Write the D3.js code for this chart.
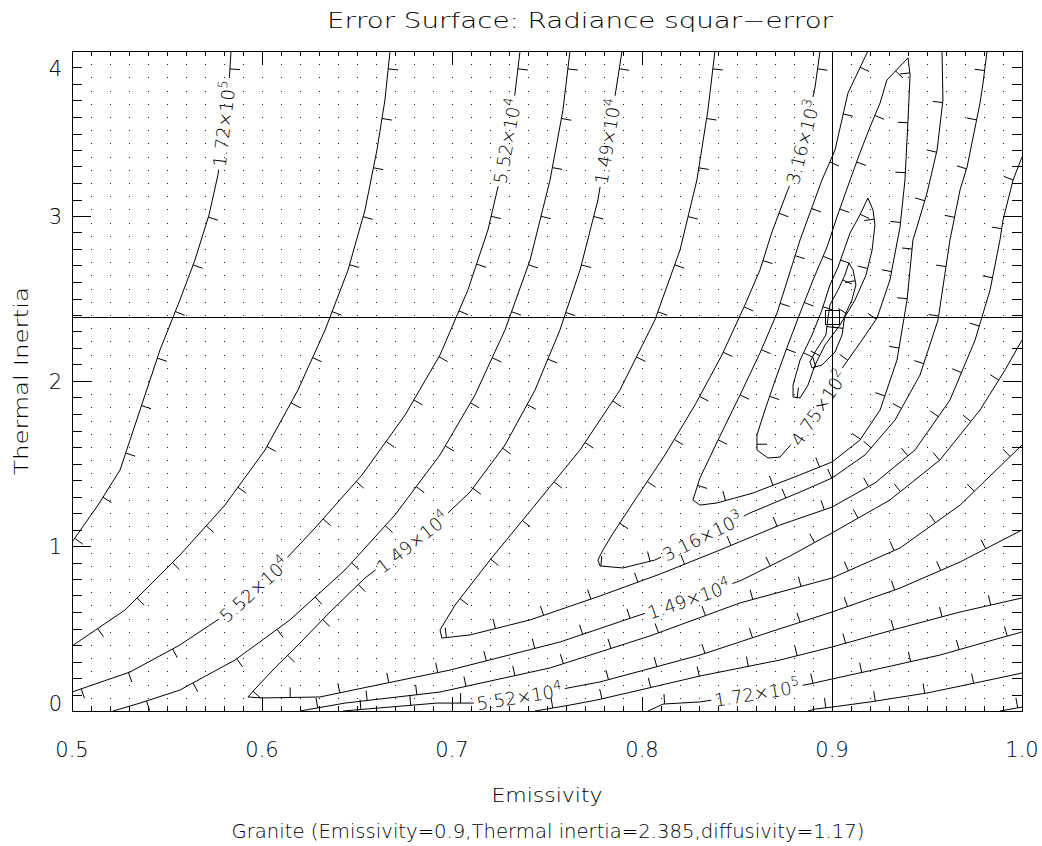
<!DOCTYPE html>
<html>
<head>
<meta charset="utf-8">
<script src="https://cdn.jsdelivr.net/npm/d3@7"></script>
<style>
  body { margin: 0; background: #fff; }
  text { font-family: "DejaVu Sans", "Liberation Sans", sans-serif; font-weight: 200; fill: #000; }
</style>
</head>
<body>
<svg id="chart" width="1042" height="846"></svg>
<script>
// ---- axis ticks ----
const xTicks = [0.5, 0.6, 0.7, 0.8, 0.9, 1.0];
const xTickLabels = ["0.5", "0.6", "0.7", "0.8", "0.9", "1.0"];
const yTicks = [0, 1, 2, 3, 4];
const yTickLabels = ["0", "1", "2", "3", "4"];

// ---- reference material (crosshair) ----
const refEmissivity = 0.9;
const refInertia = 2.385;

// ---- labelled contour levels (squared radiance error) ----
const levelValues = [1.72e5, 5.52e4, 1.49e4, 3.16e3, 4.75e2];

// ---- contour lines, [emissivity, thermal inertia], outermost first ----
const cOuter3 = [[0.9884,0],[1.0,0.024]];
const cOuter2 = [[0.8874,0],[0.8911,0.012],[0.9,0.024],[0.92,0.055],[0.95,0.109],[0.9779,0.176],[1.0,0.23]];
const c172kUpper = [[0.5837,4],[0.5826,3.794],[0.58,3.552],[0.5768,3.248],[0.5721,3.006],[0.5647,2.733],[0.5568,2.491],[0.5463,2.188],[0.5358,1.824],[0.5253,1.461],[0.5137,1.248],[0.5,1.024]];
const c172kLower = [[0.8032,0],[0.8111,0.042],[0.8305,0.055],[0.8621,0.109],[0.8884,0.164],[0.9,0.194],[0.9289,0.267],[0.9568,0.339],[0.9847,0.43],[1,0.479]];
const cA_Upper = [[0.6674,4],[0.6647,3.703],[0.6605,3.4],[0.6542,3.036],[0.6453,2.673],[0.6332,2.309],[0.6189,1.945],[0.6016,1.582],[0.5805,1.248],[0.5568,0.945],[0.5279,0.612],[0.5,0.394]];
const cA_Lower = [[0.7437,0],[0.7621,0.036],[0.7763,0.067],[0.7989,0.127],[0.8305,0.212],[0.8726,0.309],[0.9,0.388],[0.9358,0.503],[0.9674,0.6],[1,0.685]];
const c55kUpper = [[0.7358,4],[0.7321,3.642],[0.7263,3.279],[0.7189,2.915],[0.7084,2.552],[0.6937,2.158],[0.6753,1.794],[0.6526,1.43],[0.6279,1.109],[0.6032,0.806],[0.5805,0.582],[0.5568,0.4],[0.5305,0.236],[0.5,0.115]];
const c55kLower = [[0.6426,0],[0.6921,0.048],[0.7111,0.048],[0.7358,0.085],[0.7779,0.176],[0.8305,0.339],[0.8674,0.479],[0.9,0.6],[0.9358,0.745],[0.9674,0.903],[1,1.097]];
const cB_Upper = [[0.7621,4],[0.7584,3.642],[0.7516,3.218],[0.7411,2.733],[0.7279,2.309],[0.7121,1.915],[0.6937,1.552],[0.67,1.188],[0.6437,0.855],[0.6147,0.552],[0.5858,0.309],[0.5568,0.127],[0.5358,0.048],[0.5216,0]];
const cB_Lower = [[0.62,0],[0.6437,0.048],[0.6937,0.115],[0.7516,0.261],[0.8042,0.455],[0.8516,0.655],[0.9,0.806],[0.9358,0.988],[0.9674,1.248],[1,1.612]];
const c15k = [[0.7895,4],[0.7863,3.764],[0.7821,3.461],[0.7768,3.097],[0.7674,2.673],[0.7568,2.309],[0.7437,1.945],[0.7279,1.612],[0.7095,1.327],[0.6884,1.097],[0.67,0.945],[0.6542,0.806],[0.6358,0.6],[0.62,0.412],[0.6068,0.261],[0.5968,0.139],[0.5926,0.085],[0.6,0.079],[0.6305,0.085],[0.6479,0.127],[0.6989,0.248],[0.7568,0.418],[0.7989,0.582],[0.8305,0.697],[0.8526,0.794],[0.8779,0.939],[0.9,1.079],[0.9305,1.279],[0.9568,1.521],[0.9779,1.824],[0.9911,2.067],[1,2.248]];
const cC = [[0.8384,4],[0.8347,3.642],[0.8289,3.218],[0.82,2.794],[0.8068,2.37],[0.7884,1.945],[0.7674,1.582],[0.7437,1.248],[0.72,0.915],[0.7016,0.642],[0.6937,0.491],[0.6947,0.442],[0.7095,0.461],[0.7411,0.552],[0.7779,0.697],[0.8095,0.83],[0.8411,0.976],[0.8726,1.127],[0.9,1.236],[0.9226,1.382],[0.9437,1.582],[0.9621,1.885],[0.9753,2.248],[0.9832,2.552],[0.9884,2.855],[0.99,2.976],[0.9953,3.218],[1,3.358]];
const c3k = [[0.8937,4],[0.8911,3.782],[0.8863,3.521],[0.8811,3.279],[0.8763,3.145],[0.8684,2.903],[0.8621,2.673],[0.8542,2.461],[0.8421,2.158],[0.8279,1.855],[0.8121,1.552],[0.7963,1.279],[0.7842,1.067],[0.7795,0.976],[0.7768,0.915],[0.7779,0.879],[0.79,0.867],[0.8068,0.915],[0.8305,1.048],[0.8568,1.2],[0.8832,1.327],[0.9,1.412],[0.9174,1.552],[0.9332,1.764],[0.9463,2.036],[0.9558,2.37],[0.9621,2.855],[0.9674,3.158],[0.9711,3.297],[0.9779,3.685],[0.9795,3.806],[0.9816,4]];
const cD = [[0.9189,4],[0.9084,3.745],[0.9016,3.4],[0.8947,3.218],[0.8832,2.855],[0.8711,2.412],[0.8621,2.17],[0.8516,1.915],[0.84,1.642],[0.8305,1.412],[0.8268,1.279],[0.8305,1.248],[0.8395,1.261],[0.8584,1.321],[0.8816,1.424],[0.9,1.509],[0.9147,1.642],[0.9253,1.824],[0.9342,2.127],[0.9395,2.491],[0.9426,2.855],[0.9447,2.933],[0.95,3.139],[0.9553,3.4],[0.9584,3.703],[0.9579,4]];
const c475 = [[0.94,3.958],[0.9289,3.824],[0.9253,3.685],[0.92,3.539],[0.9147,3.382],[0.9095,3.218],[0.9026,2.994],[0.8974,2.812],[0.89,2.612],[0.8832,2.412],[0.8768,2.218],[0.8705,2.018],[0.8647,1.824],[0.8605,1.673],[0.8605,1.582],[0.8663,1.533],[0.8726,1.539],[0.8805,1.642],[0.8926,1.824],[0.9058,2.085],[0.9147,2.23],[0.9237,2.382],[0.9305,2.612],[0.9358,2.933],[0.9384,3.218],[0.94,3.582],[0.9411,3.855],[0.94,3.958]];
const cE = [[0.9189,3.109],[0.9147,3.006],[0.9095,2.897],[0.9032,2.691],[0.8989,2.582],[0.8947,2.43],[0.8895,2.279],[0.8832,2.127],[0.8795,1.976],[0.8795,1.903],[0.8832,1.897],[0.8874,1.976],[0.8911,2.097],[0.8963,2.218],[0.9042,2.339],[0.9121,2.491],[0.9179,2.642],[0.9211,2.794],[0.9226,2.945],[0.9216,3.036],[0.9189,3.109]];
const cF = [[0.9089,2.715],[0.9068,2.642],[0.9032,2.552],[0.8989,2.461],[0.8979,2.382],[0.8968,2.279],[0.8911,2.176],[0.8884,2.115],[0.8895,2.079],[0.8947,2.097],[0.9016,2.176],[0.9053,2.279],[0.9068,2.4],[0.9105,2.491],[0.9126,2.582],[0.9111,2.673],[0.9089,2.715]];

// which pieces carry labels (label position as a fraction of the piece length)
const pieces = [
  { pts: cOuter3,    labels: [] },
  { pts: cOuter2,    labels: [] },
  { pts: c172kUpper, labels: [{ level: levelValues[0], at: 0.14 }] },
  { pts: c172kLower, labels: [{ level: levelValues[0], at: 0.29 }] },
  { pts: cA_Upper,   labels: [] },
  { pts: cA_Lower,   labels: [] },
  { pts: c55kUpper,  labels: [{ level: levelValues[1], at: 0.11 }, { level: levelValues[1], at: 0.745 }] },
  { pts: c55kLower,  labels: [{ level: levelValues[1], at: 0.25 }] },
  { pts: cB_Upper,   labels: [] },
  { pts: cB_Lower,   labels: [] },
  { pts: c15k,       labels: [{ level: levelValues[2], at: 0.055 }, { level: levelValues[2], at: 0.33 }, { level: levelValues[2], at: 0.739 }] },
  { pts: cC,         labels: [] },
  { pts: c3k,        labels: [{ level: levelValues[3], at: 0.072 }, { level: levelValues[3], at: 0.525 }] },
  { pts: cD,         labels: [] },
  { pts: c475,       labels: [{ level: levelValues[4], at: 0.58 }] },
  { pts: cE,         labels: [] },
  { pts: cF,         labels: [] }
];

// ---- layout ----
const plot = { left: 72, right: 1022, top: 51, bottom: 711 };
const svg = d3.select("#chart");
const x = d3.scaleLinear().domain([0.5, 1.0]).range([plot.left, plot.right]);
const y = d3.scaleLinear().domain([0, 4]).range([plot.bottom, plot.top]);

svg.append("clipPath").attr("id", "plotclip").append("rect")
  .attr("x", plot.left).attr("y", plot.top)
  .attr("width", plot.right - plot.left).attr("height", plot.bottom - plot.top);

// dotted sampling grid
const gridE = d3.range(1, 50).map(i => 0.5 + i * 0.01);
const gridI = d3.range(1, 50).map(k => k * 0.08);
const dots = svg.append("g").attr("fill", "#222");
gridE.forEach(e => gridI.forEach(t => {
  dots.append("rect").attr("x", Math.round(x(e))).attr("y", Math.round(y(t)))
    .attr("width", 1).attr("height", 1);
}));

// frame and ticks on all four sides
const axisG = svg.append("g").attr("stroke", "#000").attr("stroke-width", 1).attr("fill", "none");
axisG.append("rect").attr("x", plot.left + 0.5).attr("y", plot.top + 0.5)
  .attr("width", plot.right - plot.left).attr("height", plot.bottom - plot.top);
const xMinor = d3.range(0, 51).map(i => 0.5 + i * 0.01);
const yMinor = d3.range(0, 41).map(i => i * 0.1);
xMinor.forEach((v, i) => {
  const px = Math.round(x(v)) + 0.5;
  const len = (i % 10 === 0) ? 14 : 5;
  axisG.append("line").attr("x1", px).attr("x2", px).attr("y1", plot.bottom).attr("y2", plot.bottom - len);
  axisG.append("line").attr("x1", px).attr("x2", px).attr("y1", plot.top).attr("y2", plot.top + len);
});
yMinor.forEach((v, i) => {
  const py = Math.round(y(v)) + 0.5;
  const len = (i % 10 === 0) ? 19 : 10;
  axisG.append("line").attr("x1", plot.left).attr("x2", plot.left + len).attr("y1", py).attr("y2", py);
  axisG.append("line").attr("x1", plot.right).attr("x2", plot.right - len).attr("y1", py).attr("y2", py);
});

// tick labels
xTicks.forEach((v, i) => {
  svg.append("text").attr("x", x(v)).attr("y", 757).attr("text-anchor", "middle")
    .attr("font-size", 21).text(xTickLabels[i]);
});
yTicks.forEach((v, i) => {
  const py = Math.min(Math.max(y(v) + 8, plot.top + 25), plot.bottom);
  svg.append("text").attr("x", 62).attr("y", py).attr("text-anchor", "end")
    .attr("font-size", 21).text(yTickLabels[i]);
});

// titles
svg.append("text").attr("x", 580).attr("y", 28).attr("text-anchor", "middle")
  .attr("font-size", 22).attr("textLength", 506).attr("lengthAdjust", "spacingAndGlyphs")
  .text("Error Surface: Radiance squar\u2212error");
svg.append("text").attr("x", 547).attr("y", 802).attr("text-anchor", "middle")
  .attr("font-size", 20).attr("textLength", 111).attr("lengthAdjust", "spacingAndGlyphs")
  .text("Emissivity");
svg.append("text").attr("transform", "translate(28,381) rotate(-90)").attr("text-anchor", "middle")
  .attr("font-size", 20).attr("textLength", 188).attr("lengthAdjust", "spacingAndGlyphs")
  .text("Thermal Inertia");
svg.append("text").attr("x", 548).attr("y", 838).attr("text-anchor", "middle")
  .attr("font-size", 19).attr("textLength", 633).attr("lengthAdjust", "spacingAndGlyphs")
  .text("Granite (Emissivity=0.9,Thermal inertia=2.385,diffusivity=1.17)");

// ---- contours ----
const cg = svg.append("g").attr("clip-path", "url(#plotclip)");
const line = d3.line();

function splitLevel(v) {
  const ex = Math.floor(Math.log10(v));
  return { mant: (v / Math.pow(10, ex)).toFixed(2), ex: String(ex) };
}

function drawPiece(piece) {
  const P = piece.pts.map(d => [x(d[0]), y(d[1])]);
  const cum = [0];
  for (let i = 1; i < P.length; i++) cum.push(cum[i - 1] + Math.hypot(P[i][0] - P[i - 1][0], P[i][1] - P[i - 1][1]));
  const L = cum[cum.length - 1];
  const at = s => {
    s = Math.max(0, Math.min(L, s));
    let i = 0;
    while (i < P.length - 2 && cum[i + 1] < s) i++;
    const seg = cum[i + 1] - cum[i] || 1;
    const t = (s - cum[i]) / seg;
    return { x: P[i][0] + t * (P[i + 1][0] - P[i][0]), y: P[i][1] + t * (P[i + 1][1] - P[i][1]),
             dx: (P[i + 1][0] - P[i][0]) / seg, dy: (P[i + 1][1] - P[i][1]) / seg };
  };
  const sub = (s0, s1) => {
    const out = [at(s0)];
    for (let i = 0; i < P.length; i++) if (cum[i] > s0 && cum[i] < s1) out.push({ x: P[i][0], y: P[i][1] });
    out.push(at(s1));
    return out.map(p => [p.x, p.y]);
  };

  // labels: measured, then a gap is cut in the line
  const gaps = [];
  piece.labels.forEach(lb => {
    const s = lb.at * L;
    const parts = splitLevel(lb.level);
    const t = cg.append("text").attr("font-size", 18);
    t.append("tspan").text(parts.mant + "\u00d710");
    t.append("tspan").attr("font-size", 13).attr("dy", -8).text(parts.ex);
    const w = t.node().getComputedTextLength();
    const a = at(s - w / 2), b = at(s + w / 2);
    let ang = Math.atan2(b.y - a.y, b.x - a.x) * 180 / Math.PI;
    if (ang > 95) ang -= 180;
    if (ang < -95) ang += 180;
    const c = at(s);
    t.attr("text-anchor", "middle")
      .attr("transform", `translate(${c.x},${c.y}) rotate(${ang}) translate(0,6.5)`);
    gaps.push([s - w / 2 - 3, s + w / 2 + 3]);
  });
  gaps.sort((a, b) => a[0] - b[0]);

  let s0 = 0;
  gaps.forEach(g => {
    if (g[0] > s0) cg.append("path").attr("d", line(sub(s0, g[0]))).attr("fill", "none").attr("stroke", "#000");
    s0 = g[1];
  });
  if (s0 < L) cg.append("path").attr("d", line(sub(s0, L))).attr("fill", "none").attr("stroke", "#000");

  // downhill ticks, on the side facing the valley
  const spacing = 50;
  for (let s = 18; s < L - 4; s += spacing) {
    if (gaps.some(g => s > g[0] - 6 && s < g[1] + 6)) continue;
    const p = at(s);
    cg.append("line").attr("x1", p.x).attr("y1", p.y)
      .attr("x2", p.x + 10 * p.dy).attr("y2", p.y - 10 * p.dx)
      .attr("stroke", "#000");
  }
}
pieces.forEach(drawPiece);

// crosshair and marker at the reference material
const cx = Math.round(x(refEmissivity)) + 0.5, cy = Math.round(y(refInertia)) + 0.5;
const ch = svg.append("g").attr("stroke", "#000").attr("stroke-width", 1).attr("fill", "none");
ch.append("line").attr("x1", cx).attr("x2", cx).attr("y1", plot.top).attr("y2", plot.bottom);
ch.append("line").attr("x1", plot.left).attr("x2", plot.right).attr("y1", cy).attr("y2", cy);
ch.append("rect").attr("x", cx - 7).attr("y", cy - 7).attr("width", 14).attr("height", 14);
</script>
</body>
</html>
